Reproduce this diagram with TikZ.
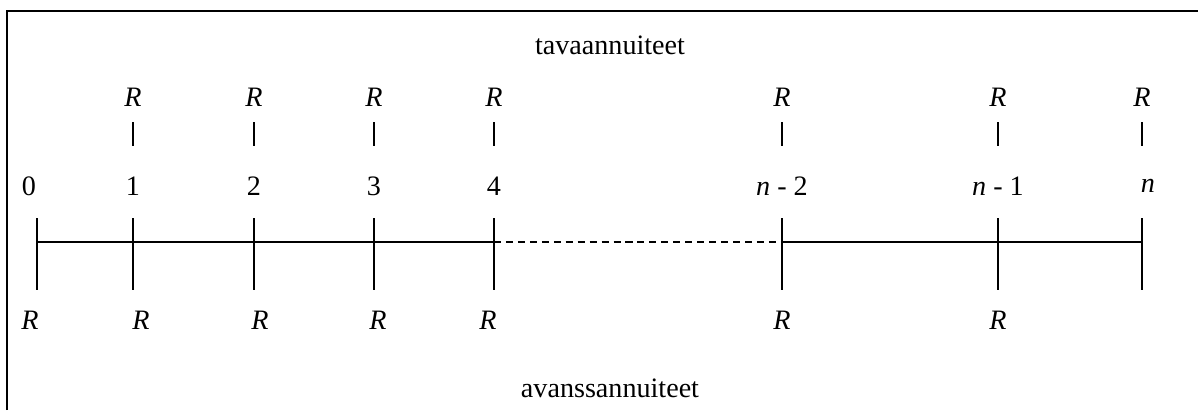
\documentclass[tikz,border=0pt]{standalone}
\usepackage{fontspec}
\setmainfont{Liberation Serif}
\begin{document}
\begin{tikzpicture}[x=0.025cm, y=-0.025cm, font=\fontsize{20}{24}\selectfont]
		\useasboundingbox (0, 0) rectangle (1198, 410);
		\draw[line width=2pt] (7, 410) -- (7, 11) -- (1198, 11);
		\node (tava) at (610, 45) {tavaannuiteet};
		\node (avans) at (610, 388) {avanssannuiteet};
		% points on the axis
		\foreach \x [count=\i from 0] in {37, 133, 254, 374, 494, 782, 998, 1142}{
			\coordinate (t\i) at (\x, 242);
			\draw[line width=1pt] (\x, 218) -- (\x, 290);
		}
		\draw[line width=1pt] (t0) -- (t4);
		\draw[line width=1pt, dash pattern=on 5pt off 3.5pt] (t4) -- (t5);
		\draw[line width=1pt] (t5) -- (t7);
		% period numbers
		\node (n0) at (29, 186) {0};
		\foreach \x/\l [count=\i] in {133/1, 254/2, 374/3, 494/4}{
			\node (n\i) at (\x, 186) {\l};
		}
		\node (n5) at (782, 186) {\textit{n} - 2};
		\node (n6) at (998, 186) {\textit{n} - 1};
		\node (n7) at (1148, 186) {\textit{n}};
		% payments at the end of the period
		\foreach \x [count=\i] in {133, 254, 374, 494, 782, 998, 1142}{
			\node (up\i) at (\x, 97) {\textit{R}};
			\draw[line width=1pt] (\x, 122) -- (\x, 146);
		}
		% payments at the start of the period
		\foreach \x [count=\i from 0] in {30, 141, 260, 378, 488, 782, 998}{
			\node (down\i) at (\x, 320) {\textit{R}};
		}
	\end{tikzpicture}
\end{document}
